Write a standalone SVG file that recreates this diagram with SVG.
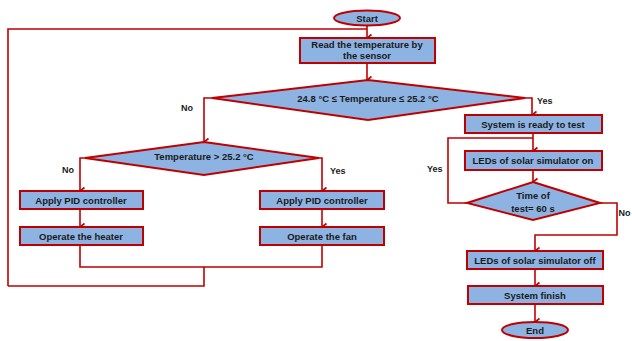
<svg xmlns="http://www.w3.org/2000/svg" width="632" height="341" viewBox="0 0 632 341">
<defs>
<marker id="ar" markerWidth="10" markerHeight="10" refX="5" refY="8" orient="auto" markerUnits="userSpaceOnUse" viewBox="0 0 10 10">
<path d="M1.5,3.5 L5,8 L8.5,3.5" fill="none" stroke="#C00000" stroke-width="1.6"/>
</marker>
</defs>
<style>
.b{fill:#8DB3E2;stroke:#C00000;stroke-width:2}
.t{font-family:"Liberation Sans",Arial,sans-serif;font-weight:bold;font-size:9.5px;fill:#1a1a1a;text-anchor:middle}
.l{font-family:"Liberation Sans",Arial,sans-serif;font-weight:bold;font-size:9px;fill:#1a1a1a}
.c{fill:none;stroke:#C00000;stroke-width:1.6}
</style>
<rect width="632" height="341" fill="#fff"/>
<g id="connectors">
<path class="c" d="M367,25 V38" marker-end="url(#ar)"/>
<path class="c" d="M8,286 V29 H367"/>
<path class="c" d="M367,63 V80" marker-end="url(#ar)"/>
<path class="c" d="M212,98 H204 V142" marker-end="url(#ar)"/>
<path class="c" d="M525,98 H532 V115" marker-end="url(#ar)"/>
<path class="c" d="M85,158 H80 V191" marker-end="url(#ar)"/>
<path class="c" d="M319,158 H322 V191" marker-end="url(#ar)"/>
<path class="c" d="M80,209 V227" marker-end="url(#ar)"/>
<path class="c" d="M322,209 V227" marker-end="url(#ar)"/>
<path class="c" d="M80,245 V267 H322 V245"/>
<path class="c" d="M204,267 V286 H8"/>
<path class="c" d="M533,133 V151" marker-end="url(#ar)"/>
<path class="c" d="M467,203 H448 V138 H533"/>
<path class="c" d="M533,170 V182" marker-end="url(#ar)"/>
<path class="c" d="M600,203 H617 V235 H535 V251" marker-end="url(#ar)"/>
<path class="c" d="M535,269 V286" marker-end="url(#ar)"/>
<path class="c" d="M535,304 V322" marker-end="url(#ar)"/>
</g>
<g id="start"><ellipse class="b" cx="367" cy="18" rx="33" ry="7.5"/><text class="t" x="367" y="21.5">Start</text></g>
<g id="read"><rect class="b" x="300" y="38" width="135" height="25"/><text class="t" x="367" y="48">Read the temperature by</text><text class="t" x="367" y="59">the sensor</text></g>
<g id="dec1"><polygon class="b" points="368,80 525,98 368,120 212,98"/><text class="t" x="368" y="101.5">24.8 °C ≤ Temperature ≤ 25.2 °C</text></g>
<g id="dec2"><polygon class="b" points="204,142 319,158 204,175 85,158"/><text class="t" x="204" y="160">Temperature &gt; 25.2 °C</text></g>
<g id="pid1"><rect class="b" x="20" y="191" width="123" height="18"/><text class="t" x="81" y="203.5">Apply PID  controller</text></g>
<g id="heater"><rect class="b" x="20" y="227" width="123" height="18"/><text class="t" x="81" y="239.5">Operate the heater</text></g>
<g id="pid2"><rect class="b" x="260" y="191" width="124" height="18"/><text class="t" x="322" y="203.5">Apply PID  controller</text></g>
<g id="fan"><rect class="b" x="260" y="227" width="124" height="18"/><text class="t" x="322" y="239.5">Operate the fan</text></g>
<g id="ready"><rect class="b" x="465" y="115" width="137" height="18"/><text class="t" x="533" y="127.5">System is ready to test</text></g>
<g id="ledon"><rect class="b" x="465" y="151" width="137" height="19"/><text class="t" x="533" y="164">LEDs of solar simulator on</text></g>
<g id="dec3"><polygon class="b" points="533,182 600,203 533,220 467,203"/><text class="t" x="533" y="199">Time of</text><text class="t" x="533" y="212">test= 60 s</text></g>
<g id="ledoff"><rect class="b" x="467" y="251" width="136" height="18"/><text class="t" x="535" y="263.5">LEDs of solar simulator off</text></g>
<g id="finish"><rect class="b" x="468" y="286" width="135" height="18"/><text class="t" x="535" y="298.5">System finish</text></g>
<g id="end"><ellipse class="b" cx="535" cy="330" rx="33" ry="8"/><text class="t" x="535" y="333.5">End</text></g>
<g id="labels">
<text class="l" x="181" y="111">No</text>
<text class="l" x="537" y="104">Yes</text>
<text class="l" x="62" y="173">No</text>
<text class="l" x="330" y="174">Yes</text>
<text class="l" x="427" y="172">Yes</text>
<text class="l" x="618.5" y="216">No</text>
</g>
</svg>
